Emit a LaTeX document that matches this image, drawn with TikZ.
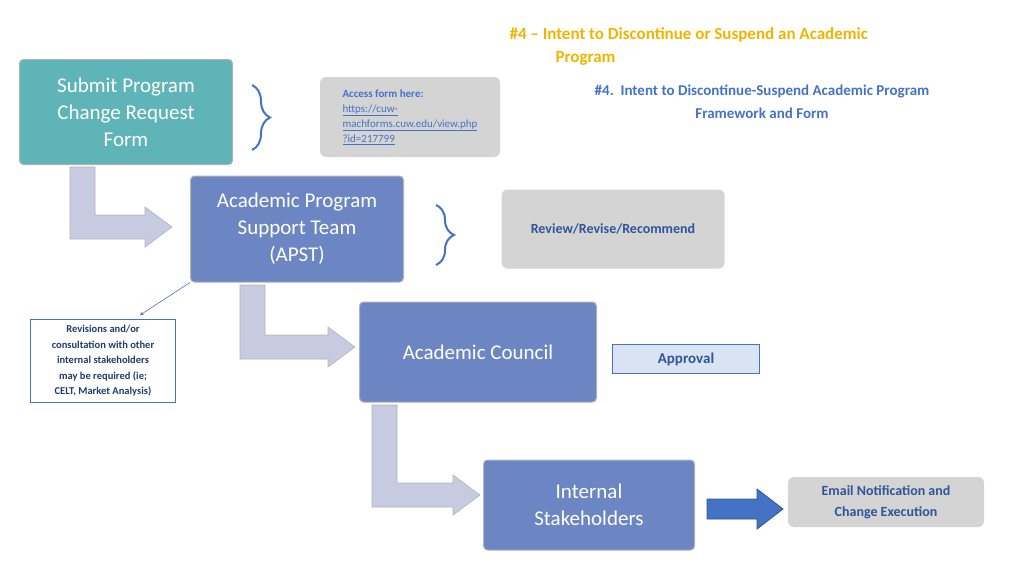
\documentclass[tikz,border=0pt]{standalone}
\usepackage{fontspec}
\setmainfont{Carlito}
\usetikzlibrary{positioning,decorations.pathreplacing}
\definecolor{gold}{HTML}{F0B400}
\definecolor{hblue}{HTML}{4472C4}
\definecolor{dblue}{HTML}{2F5597}
\definecolor{teal}{HTML}{5FB4B8}
\definecolor{slate}{HTML}{6B86C2}
\definecolor{lav}{HTML}{C7CBE2}
\tikzset{stage/.style={draw=white!70!black,line width=1pt,rounded corners=4pt,fill=slate,text=white,align=center,font=\fontsize{21}{27}\selectfont,inner sep=2pt}}
\tikzset{note/.style={fill=black!17,rounded corners=6pt,align=center,text=dblue,font=\bfseries\fontsize{14}{21}\selectfont}}
\tikzset{brc/.style={draw=hblue,line width=2pt,decorate,decoration={brace,amplitude=18pt}}}
\tikzset{larr/.style={fill=lav,draw=black!30,line width=0.6pt}}
\newcommand{\bentarrow}[4]{%
  \filldraw[larr] (#1,#2) -- (#1+25,#2) -- (#1+25,#3-12) -- (#4-27,#3-12) -- (#4-27,#3-20)
    -- (#4,#3) -- (#4-27,#3+20) -- (#4-27,#3+12) -- (#1,#3+12) -- cycle;}
\begin{document}
\begin{tikzpicture}[x=1pt,y=-1pt]
\useasboundingbox (0,0) rectangle (1024,576);
% titles
\node[anchor=north west,text=gold,font=\bfseries\fontsize{17}{23}\selectfont,align=left] (title) at (506,24) {\#4 -- Intent to Discontinue or Suspend an Academic\\\hspace*{46pt}Program};
\node[text=hblue,font=\bfseries\fontsize{15}{23}\selectfont,align=center] (sub) at (762,102) {\#4.\ \ Intent to Discontinue-Suspend Academic Program\\Framework and Form};
% stages
\node[stage,fill=teal,minimum width=213pt,minimum height=105pt] (submit) at (126,112) {Submit Program\\Change Request\\Form};
\node[stage,minimum width=213pt,minimum height=106pt] (apst) at (297,229) {Academic Program\\Support Team\\(APST)};
\node[stage,minimum width=237pt,minimum height=100pt] (council) at (478,352) {Academic Council};
\node[stage,minimum width=211pt,minimum height=90pt] (intern) at (589,505) {Internal\\Stakeholders};
% notes
\node[note,minimum width=180pt,minimum height=80pt,align=left,font=\fontsize{11}{15}\selectfont,text=hblue] (access) at (410,117) {\textbf{Access form here:}\\\underline{https://cuw-}\\\underline{machforms.cuw.edu/view.php}\\\underline{?id=217799}};
\node[note,minimum width=223pt,minimum height=79pt] (review) at (613,229) {Review/Revise/Recommend};
\node[draw=hblue,fill=hblue!20,text=dblue,font=\bfseries\fontsize{15}{20}\selectfont,minimum width=147pt,minimum height=29pt] (approval) at (686,359) {Approval};
\node[note,minimum width=196pt,minimum height=50pt] (email) at (886,502) {Email Notification and\\Change Execution};
\node[draw=hblue,line width=0.8pt,text=dblue!70!black,align=center,font=\bfseries\fontsize{10.5}{15.5}\selectfont,minimum width=145pt,minimum height=83pt] (rev) at (103,361) {Revisions and/or\\consultation with other\\internal stakeholders\\may be required (ie;\\CELT, Market Analysis)};
% braces
\draw[brc] (252,85) -- (252,150);
\draw[brc] (436,205) -- (436,265);
% bent arrows
\bentarrow{70}{167}{227}{172}
\bentarrow{240}{285}{347}{355}
\bentarrow{372}{405}{495}{480}
% connectors
\draw[-stealth,hblue,line width=0.6pt] (apst.south west) -- ([xshift=37pt,yshift=4pt]rev.north);
\coordinate (ea) at (707,509);
\filldraw[fill=hblue,draw=dblue,line width=0.8pt] (ea) ++(0,-10) -- ++(50,0) -- ++(0,-10) -- (783,509) -- (757,529) -- ++(0,-10) -- ++(-50,0) -- cycle;
\end{tikzpicture}
\end{document}
